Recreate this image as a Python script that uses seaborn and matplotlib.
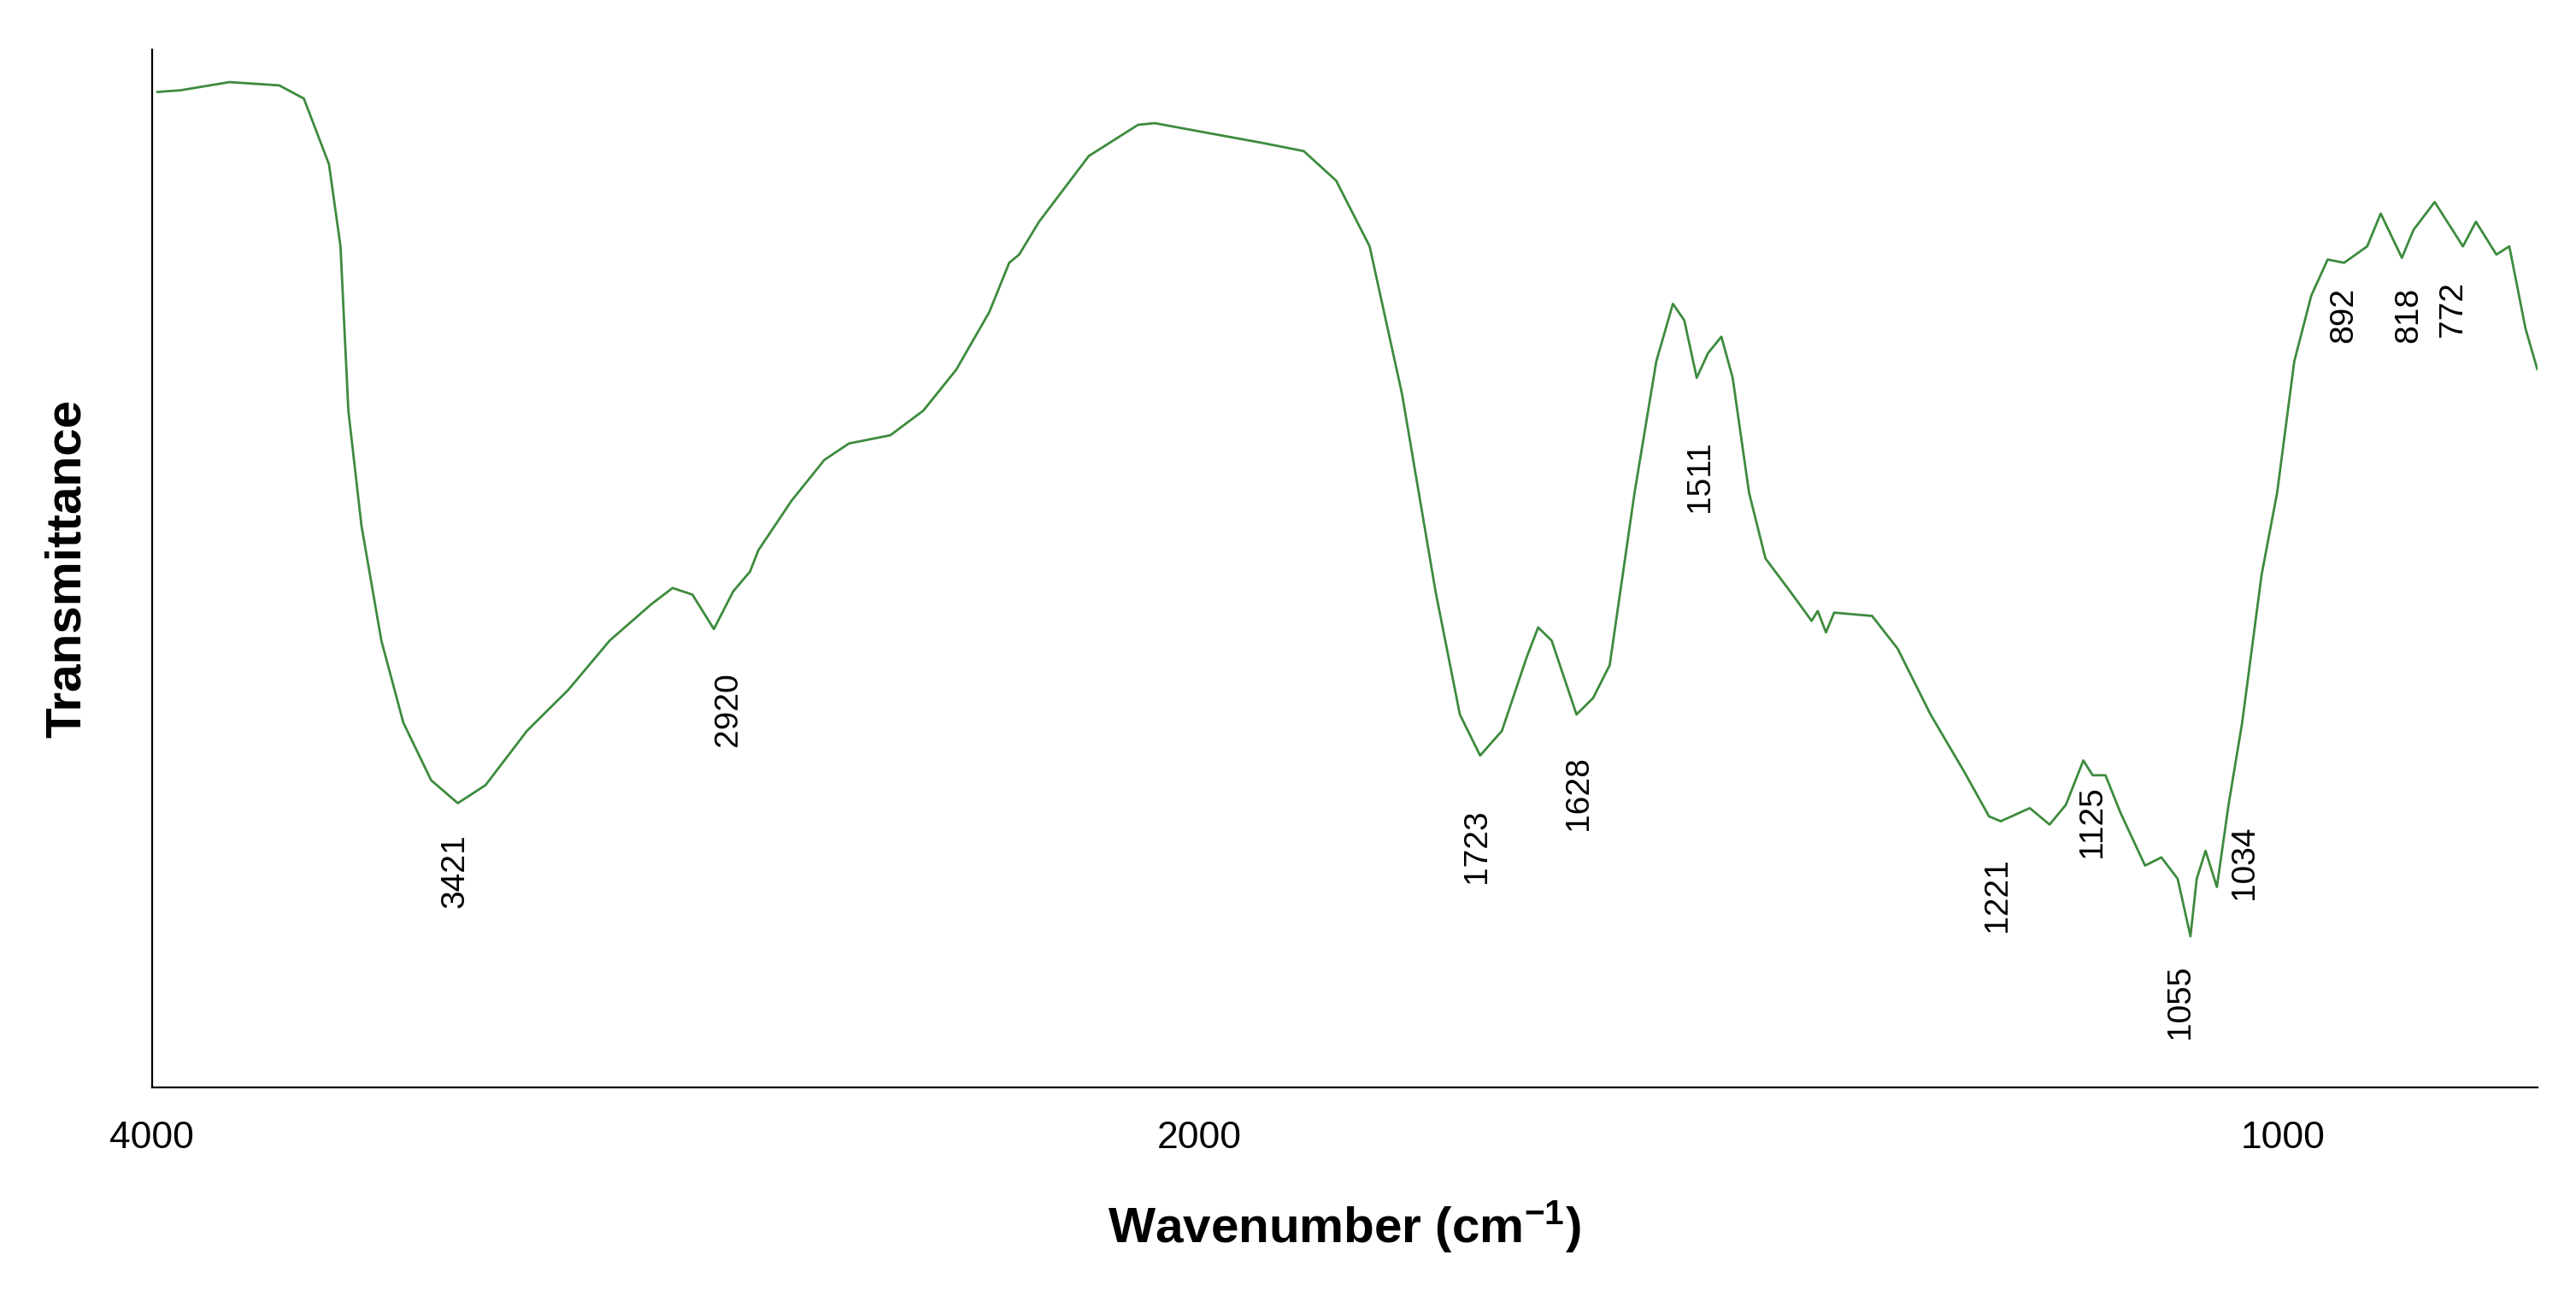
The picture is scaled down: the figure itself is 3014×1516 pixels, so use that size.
import numpy as np
import pandas as pd
import matplotlib
matplotlib.use("Agg")
import matplotlib.pyplot as plt
import seaborn as sns

sns.set_style("white")
plt.rcParams['font.family'] = ['Liberation Sans', 'DejaVu Sans']
plt.rcParams['mathtext.default'] = 'regular'

wavenumber = [3990,3946,3852,3757,3710,3662,3640,3625,3600,3562,3520,3467,3416,3363,3284,3205,3126,3047,3006,2968,2927,2890,2858,2842,2779,2716,2669,2590,2527,2464,2401,2363,2344,2306,2211,2117,2085,2000,1938,1897,1865,1832,1800,1767,1743,1723,1702,1678,1667,1654,1630,1614,1598,1574,1553,1537,1526,1514,1503,1490,1479,1463,1447,1423,1402,1396,1388,1380,1343,1318,1286,1253,1229,1218,1193,1176,1162,1147,1139,1128,1115,1094,1080,1066,1055,1050,1043,1034,1028,1021,1011,1003,980,950,921,892,868,854,832,820,798,769,757,738,726,711,700]
ypix = [56,55,50,52,60,100,150,250,320,390,440,475,489,478,445,420,390,368,358,362,383,360,348,335,305,280,270,265,250,225,190,160,155,135,95,76,75,80,87,92,110,150,240,360,435,460,445,400,382,390,435,425,405,300,220,185,195,230,215,205,230,300,340,360,378,372,385,373,375,395,435,470,497,500,492,502,490,463,472,472,495,527,522,535,570,535,518,540,490,440,350,300,220,180,158,160,150,130,157,140,123,150,135,155,150,200,225]
transmittance = [662 - v for v in ypix]

peak_labels = ["3421","2920","1723","1628","1511","1221","1125","1055","1034","892","818","772"]
peak_pos = [3421,2900,1726,1628,1511,1221,1139,1064,1020,892,825,779]
peak_ylab = [132,230,147,179,372,117,162,52,137,470,470,474]

anchor_w = [700,772,892,1000,1034,1055,1221,1511,1723,2000,4000]
anchor_p = [1537,1490,1420,1383,1343,1327,1210,1030,897,727,93]
W = np.array(anchor_w, float)
P = -np.array(anchor_p, float)

def fwd(w):
    return np.interp(w, W, P)
def inv(u):
    return np.interp(u, P, W)

fig = plt.figure(figsize=(15.07, 7.58), dpi=200)
ax = fig.add_axes([0.059, 0.161, 0.926, 0.801])
df = pd.DataFrame({"w": wavenumber, "t": transmittance})
sns.lineplot(data=df, x="w", y="t", sort=False, ax=ax, color="#3d8b3d", linewidth=1.0)
ax.set_xscale('function', functions=(fwd, inv))
ax.set_xlim(4000, 688)
ax.set_ylim(0, 632)
ax.set_xticks([4000, 2000, 1000])
ax.set_xticklabels(["4000", "2000", "1000"])
ax.set_yticks([])
ax.tick_params(axis='x', length=0, labelsize=16, pad=14, labelcolor="black")
for s in ["top", "right"]:
    ax.spines[s].set_visible(False)
for s in ["left", "bottom"]:
    ax.spines[s].set_color("black")
    ax.spines[s].set_linewidth(0.8)
ax.set_xlabel(r"Wavenumber (cm$^{-1}$)", fontsize=21, fontweight="bold", labelpad=18, color="black")
ax.set_ylabel("Transmittance", fontsize=21, fontweight="bold", labelpad=26, color="black")
for lab, x, y in zip(peak_labels, peak_pos, peak_ylab):
    ax.text(x, y, lab, rotation=90, ha="center", va="center", fontsize=14, color="black")
fig.savefig("out.png", dpi=200)
